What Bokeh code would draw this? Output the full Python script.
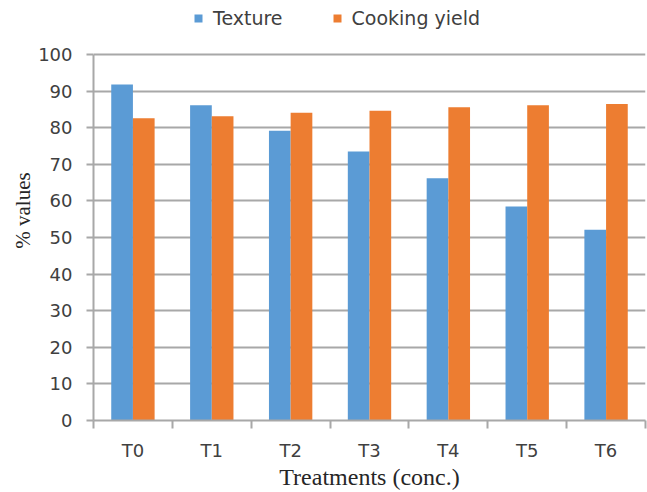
from bokeh.plotting import figure
from bokeh.models import (ColumnDataSource, Range1d, FixedTicker, Legend, LegendItem)
from bokeh.embed import file_html
from bokeh.resources import INLINE

# Treatments and measured percentages
treatments = ["T0", "T1", "T2", "T3", "T4", "T5", "T6"]
texture = [91.8, 86.1, 79.2, 73.5, 66.2, 58.5, 52.1]
cooking_yield = [82.6, 83.1, 84.1, 84.6, 85.6, 86.1, 86.5]
y_ticks = [0, 10, 20, 30, 40, 50, 60, 70, 80, 90, 100]

BLUE = "#5B9BD5"
ORANGE = "#ED7D31"
GRID = "#A8A8A8"
SANS = "DejaVu Sans"
SERIF = "Liberation Serif"

bar_w = 0.275
centers = [i + 0.5 for i in range(len(treatments))]
src = ColumnDataSource(dict(
    tex_x=[c - bar_w / 2 for c in centers],
    cy_x=[c + bar_w / 2 for c in centers],
    texture=texture,
    cooking=cooking_yield,
))

# the frame runs to the top of the canvas so the legend can sit above the 100 line;
# axis and grid are bounded to 0..100
y_top = 100 * 420 / 366
p = figure(width=647, height=492, output_backend="svg", toolbar_location=None,
           x_range=Range1d(0, len(treatments)), y_range=Range1d(0, y_top),
           min_border_left=93, min_border_right=2, min_border_top=0,
           min_border_bottom=72)
p.outline_line_color = None
p.background_fill_color = "white"
p.border_fill_color = "white"

r_tex = p.vbar(x="tex_x", top="texture", width=bar_w, source=src,
               fill_color=BLUE, line_color=None)
r_cy = p.vbar(x="cy_x", top="cooking", width=bar_w, source=src,
              fill_color=ORANGE, line_color=None)

# x axis: labels at category centres, tick marks at category boundaries
xa = p.xaxis[0]
xa.ticker = FixedTicker(ticks=centers, minor_ticks=list(range(len(treatments) + 1)))
xa.major_label_overrides = {c: t for c, t in zip(centers, treatments)}
xa.major_tick_out = 0
xa.major_tick_in = 0
xa.minor_tick_out = 8
xa.minor_tick_in = 0
xa.minor_tick_line_color = GRID
xa.minor_tick_line_width = 2
xa.axis_line_color = GRID
xa.axis_line_width = 2
xa.major_label_text_font = SANS
xa.major_label_text_font_size = "18px"
xa.major_label_text_color = "#404040"
xa.major_label_standoff = 11
xa.axis_label = "Treatments (conc.)"
xa.axis_label_text_font = SERIF
xa.axis_label_text_font_size = "24px"
xa.axis_label_text_font_style = "normal"
xa.axis_label_text_color = "#262626"
xa.axis_label_standoff = 0

ya = p.yaxis[0]
ya.bounds = (0, 100)
ya.ticker = FixedTicker(ticks=y_ticks, minor_ticks=[])
ya.major_tick_out = 7
ya.major_tick_in = 0
ya.major_tick_line_color = GRID
ya.major_tick_line_width = 2
ya.axis_line_color = GRID
ya.axis_line_width = 2
ya.major_label_text_font = SANS
ya.major_label_text_font_size = "18px"
ya.major_label_text_color = "#404040"
ya.major_label_standoff = 14
ya.axis_label = "% values"
ya.axis_label_text_font = SERIF
ya.axis_label_text_font_size = "21px"
ya.axis_label_text_font_style = "normal"
ya.axis_label_text_color = "#262626"
ya.axis_label_standoff = 0

p.xgrid.visible = False
p.ygrid.ticker = FixedTicker(ticks=y_ticks)
p.ygrid.bounds = (0, 100)
p.ygrid.grid_line_color = GRID
p.ygrid.grid_line_width = 2

legend = Legend(items=[LegendItem(label="Texture", renderers=[r_tex]),
                       LegendItem(label="Cooking yield", renderers=[r_cy])],
                orientation="horizontal", location=(100, 391),
                glyph_width=10, glyph_height=10, label_standoff=10,
                spacing=49, padding=0, margin=0,
                label_text_font=SANS, label_text_font_size="19px",
                label_text_color="#404040", label_height=20,
                border_line_color=None, background_fill_alpha=0)
p.add_layout(legend, "center")

open("out.html", "w").write(file_html(p, INLINE))
